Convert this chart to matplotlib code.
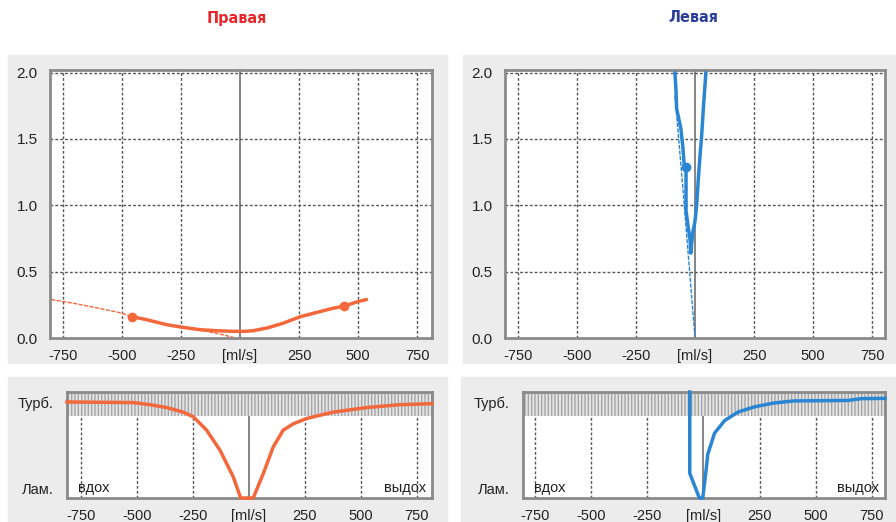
import numpy as np
import matplotlib.pyplot as plt
from matplotlib.patches import Rectangle

plt.rcParams['font.family'] = ['Liberation Sans', 'DejaVu Sans']

# ---- данные: правая (оранжевая) ----
r_exp_x = [-458, -400, -310, -240, -169, -100, -28, 20, 56, 113, 180, 254, 330, 395, 440, 500, 536]
r_exp_y = [0.16, 0.14, 0.10, 0.08, 0.0625, 0.055, 0.05, 0.05, 0.055, 0.075, 0.11, 0.16, 0.195, 0.225, 0.24, 0.275, 0.29]
r_ins_x = [-800, -700, -600, -507, -458, -400, -310, -240, -169, -100, -28]
r_ins_y = [0.29, 0.26, 0.225, 0.19, 0.16, 0.14, 0.10, 0.08, 0.06, 0.035, 0.005]
r_mark_x = [-458, 440]
r_mark_y = [0.16, 0.24]

# ---- данные: левая (синяя) ----
l_exp_x = [-85, -80, -78, -60, -52, -45, -38, -38, -30, -21, -18, -10, 0, 7, 14, 21, 28, 35, 46]
l_exp_y = [2.0, 1.85, 1.73, 1.58, 1.45, 1.29, 1.26, 0.96, 0.85, 0.74, 0.64, 0.79, 0.88, 1.0, 1.2, 1.37, 1.52, 1.72, 2.0]
l_ins_x = [-85, -70, -50, -30, -15, 0]
l_ins_y = [1.83, 1.52, 1.10, 0.66, 0.33, 0.0]
l_mark_x = [-38]
l_mark_y = [1.29]

# ---- турбулентность ----
r_turb_x = [-812, -515, -441, -367, -293, -248, -189, -129, -70, -37, 19, 64, 108, 153, 198, 257, 376, 524, 673, 817]
r_turb_y = [0.906, 0.9, 0.88, 0.853, 0.81, 0.766, 0.64, 0.45, 0.2, 0.0, 0.0, 0.23, 0.48, 0.64, 0.70, 0.75, 0.81, 0.853, 0.88, 0.89]
l_turb_x = [-61, -61, -18, -3, 12, 19, 49, 94, 153, 227, 316, 405, 643, 702, 808]
l_turb_y = [1.0, 0.234, 0.0, 0.0, 0.266, 0.41, 0.61, 0.73, 0.81, 0.86, 0.897, 0.916, 0.92, 0.9375, 0.94]

ticks = [-750, -500, -250, 0, 250, 500, 750]
tick_labels = ['-750', '-500', '-250', '[ml/s]', '250', '500', '750']
y_ticks = [0.0, 0.5, 1.0, 1.5, 2.0]

orange = '#f2683a'
blue = '#2a86d2'
panel = '#ececec'
frame = '#8a8a8a'
gridc = '#555555'

W, H = 896, 522
fig = plt.figure(figsize=(W / 100, H / 100), dpi=100)
fig.patch.set_facecolor('white')


def box(x0, y0, x1, y1):
    return [x0 / W, 1 - y1 / H, (x1 - x0) / W, (y1 - y0) / H]


# серые подложки
for (x0, y0, x1, y1) in [(8, 55, 447, 363), (463, 55, 896, 363), (8, 377, 447, 522), (461, 377, 896, 522)]:
    fig.patches.append(Rectangle((x0 / W, 1 - y1 / H), (x1 - x0) / W, (y1 - y0) / H,
                                 transform=fig.transFigure, color=panel, zorder=-5))


def style(ax):
    for s in ax.spines.values():
        s.set_color(frame)
        s.set_linewidth(2)
    ax.set_facecolor('white')
    ax.tick_params(length=0, labelsize=10.5, colors='#222222')


def top_plot(ax, xlim, ex, ey, ix, iy, mx, my, color):
    style(ax)
    ax.set_xlim(*xlim)
    ax.set_ylim(0, 2.02)
    ax.set_xticks(ticks)
    ax.set_xticklabels(tick_labels)
    ax.set_yticks(y_ticks)
    ax.set_yticklabels(['%.1f' % v for v in y_ticks])
    ax.tick_params(axis='x', pad=8)
    ax.tick_params(axis='y', pad=9, labelsize=11)
    for t in ticks:
        if t == 0:
            ax.axvline(0, color='#707070', lw=1.2, zorder=1)
        else:
            ax.axvline(t, color=gridc, lw=1, ls=(0, (2, 1.5)), zorder=1)
    for v in y_ticks[1:]:
        ax.axhline(v, color=gridc, lw=1, ls=(0, (2, 1.5)), zorder=1)
    ax.plot(ix, iy, color=color, lw=1, ls=(0, (3, 1)), zorder=2)
    ax.plot(ex, ey, color=color, lw=2.5, zorder=3, solid_capstyle='round')
    ax.plot(mx, my, 'o', color=color, ms=6, zorder=4)


def bottom_plot(ax, xlim, tx, ty, color):
    style(ax)
    ax.set_xlim(*xlim)
    ax.set_ylim(0, 1)
    ax.set_xticks(ticks)
    ax.set_xticklabels(tick_labels)
    ax.set_yticks([0.09, 0.9])
    ax.set_yticklabels(['Лам.', 'Турб.'])
    ax.tick_params(axis='x', pad=8)
    ax.tick_params(axis='y', pad=10)
    ax.axhspan(0.775, 1.0, facecolor='#e4e4e4', edgecolor='#a5a5a5', hatch='|||||', lw=0, zorder=1)
    for t in ticks:
        if t == 0:
            ax.vlines(0, 0, 0.775, color='#707070', lw=1.2, zorder=1)
        else:
            ax.vlines(t, 0, 0.775, color=gridc, lw=1, ls=(0, (2, 1.5)), zorder=1)
    ax.plot(tx, ty, color=color, lw=2.5, zorder=3, clip_on=False)
    ax.text(0.03, 0.09, 'вдох', transform=ax.transAxes, fontsize=10.5, va='center', ha='left', color='#222222')
    ax.text(0.985, 0.09, 'выдох', transform=ax.transAxes, fontsize=10.5, va='center', ha='right', color='#222222')


ax1 = fig.add_axes(box(50, 70, 432, 338))
top_plot(ax1, (-805, 813), r_exp_x, r_exp_y, r_ins_x, r_ins_y, r_mark_x, r_mark_y, orange)
ax2 = fig.add_axes(box(505, 70, 885, 338))
top_plot(ax2, (-805, 805), l_exp_x, l_exp_y, l_ins_x, l_ins_y, l_mark_x, l_mark_y, blue)
ax3 = fig.add_axes(box(67, 392, 432, 498))
bottom_plot(ax3, (-812, 817), r_turb_x, r_turb_y, orange)
ax4 = fig.add_axes(box(523, 392, 885, 498))
bottom_plot(ax4, (-803, 808), l_turb_x, l_turb_y, blue)

fig.text(237 / W, 1 - 18 / H, 'Правая', color='#e8252a', fontsize=11.5, fontweight='bold',
         ha='center', va='center', family='DejaVu Sans', fontstretch='condensed')
fig.text(693 / W, 1 - 18 / H, 'Левая', color='#2b3f9a', fontsize=11.5, fontweight='bold',
         ha='center', va='center', family='DejaVu Sans', fontstretch='condensed')

fig.savefig('out.png', dpi=100)
